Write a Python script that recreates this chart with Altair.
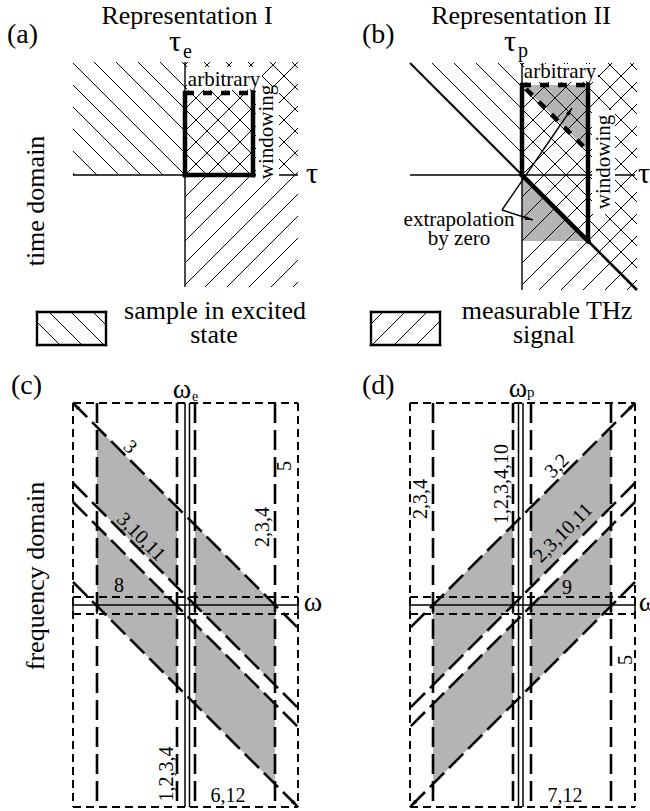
import math
import altair as alt
import pandas as pd

W, H = 650, 811
SERIF = "Liberation Serif"
GRAY = "#b4b4b4"
STEP = 22  # hatch spacing measured along x

# ---------- time domain: panel (a), representation I ----------
A_UPPER = [73, 298, 62, 175]      # x0, x1, y0, y1 of the "sample excited" half
A_RIGHT = [185, 298, 62, 287]     # measurable-signal half
A_ORIGIN = [185, 175]
A_WINDOW = [185, 253, 93, 175]    # x0, x1, top, bottom

# ---------- time domain: panel (b), representation II ----------
B_FRAME = [410, 637, 63, 290]
B_RIGHT = [522, 637, 63, 290]
B_ORIGIN = [522, 175]
B_WINDOW = [522, 588, 85, 241]

# ---------- legend ----------
LEG_BOXES = [[37, 106, 312, 345], [371, 440, 312, 345]]
LEG_SLOPES = [1, -1]

# ---------- frequency domain: panels (c) and (d) ----------
F_LEFT = [73, 410]
F_WIDTH = 225
F_TOP, F_BOTTOM = 403, 807
F_LONG_X = [24, 104, 122, 202]          # long-dashed verticals (panel-local x)
F_SOLID_X = [112, 116.5]                # solid double line on the omega_e / omega_p axis
F_STUB_X = [0, 24, 104, 122, 202, 225]
F_BAND_DASH_Y = [597, 614]
F_BAND_SOLID_Y = 605
F_DIAG_Y0 = [403, 483, 502, 582]        # diagonals, y at the starting edge
F_GRAY_X = [[24, 104], [122, 202]]
F_GRAY_BANDS = [[0, 1], [2, 3]]

segs = []


def seg(x1, y1, x2, y2, style):
    segs.append(dict(x=x1, y=y1, x2=x2, y2=y2, style=style))


def hatch(rect, slope, through, style="hatch", keep=None):
    x0, x1, y0, y1 = rect
    c_ref = through[1] - slope * through[0]
    cs = [y - slope * x for x in (x0, x1) for y in (y0, y1)]
    k0 = math.ceil((min(cs) - c_ref) / STEP)
    k1 = math.floor((max(cs) - c_ref) / STEP)
    for k in range(k0, k1 + 1):
        if keep is not None and not keep(k):
            continue
        c = c_ref + k * STEP
        if slope > 0:
            lo, hi = y0 - c, y1 - c
        else:
            lo, hi = c - y1, c - y0
        lo, hi = max(lo, x0), min(hi, x1)
        if hi - lo > 0.5:
            seg(lo, slope * lo + c, hi, slope * hi + c, style)


# panel (a)
hatch(A_UPPER, 1, A_ORIGIN)
hatch(A_RIGHT, -1, A_ORIGIN)
seg(A_UPPER[0], A_ORIGIN[1], A_UPPER[1], A_ORIGIN[1], "axis")
seg(A_ORIGIN[0], A_RIGHT[2], A_ORIGIN[0], A_RIGHT[3], "axis")
ax0, ax1, at, ab = A_WINDOW
seg(ax0, at, ax0, ab, "thick")
seg(ax0, ab, ax1, ab, "thick")
seg(ax1, at, ax1, ab, "thick")
seg(ax0, at, ax1, at, "thickdash")

# panel (b)
hatch(B_FRAME, 1, B_ORIGIN, keep=lambda k: k < 0)
hatch(B_RIGHT, -1, B_ORIGIN)
ox, oy = B_ORIGIN
seg(B_FRAME[0], oy, 635, oy, "axis")
seg(ox, B_FRAME[2], ox, B_FRAME[3], "axis")
bx0, bx1, bt, bb = B_WINDOW
seg(B_FRAME[0], oy - (ox - B_FRAME[0]), ox, oy, "diag")
seg(ox, oy, bx1, bb, "thick")
seg(bx1, bb, B_FRAME[1], bb + (B_FRAME[1] - bx1), "diag2")
seg(bx0, bt, bx0, oy, "thick")
seg(bx1, bt, bx1, bb, "thick")
seg(bx0, bt, bx1, bt, "thickdash")
seg(bx0 + 4, bt + 4, bx1, bt + (bx1 - bx0), "thickdash")
seg(502, 210, 572, 108, "pointer")
seg(502, 210, 533, 220, "pointer")

# legend boxes
for (lx0, lx1, ly0, ly1), s in zip(LEG_BOXES, LEG_SLOPES):
    hatch([lx0, lx1, ly0, ly1], s, [lx0 + 12, ly0])
    seg(lx0, ly0, lx1, ly0, "box")
    seg(lx0, ly1, lx1, ly1, "box")
    seg(lx0, ly0, lx0, ly1, "box")
    seg(lx1, ly0, lx1, ly1, "box")

# panels (c) and (d): (d) is the mirror image of (c)
gray_rows = []
arrow_rows = []
for panel, left in enumerate(F_LEFT):
    mirror = panel == 1

    def px(xl):
        return left + (F_WIDTH - xl if mirror else xl)

    right = left + F_WIDTH
    for xl in F_LONG_X:
        seg(px(xl), F_TOP, px(xl), F_BOTTOM, "long")
    for xl in F_SOLID_X:
        seg(px(xl), F_TOP, px(xl), F_BOTTOM, "omega")
    for yb in F_BAND_DASH_Y:
        seg(left, yb, right, yb, "frame")
    seg(left, F_BAND_SOLID_Y, right, F_BAND_SOLID_Y, "omega")
    for xl in F_STUB_X:
        seg(px(xl), F_BAND_DASH_Y[0], px(xl), F_BAND_DASH_Y[1], "omega")
    for y0 in F_DIAG_Y0:
        seg(px(0), y0, px(F_WIDTH), y0 + F_WIDTH, "long")
    seg(left, F_TOP, right, F_TOP, "frame")
    seg(left, F_BOTTOM, right, F_BOTTOM, "frame")
    seg(left, F_TOP, left, F_BOTTOM, "frame")
    seg(right, F_TOP, right, F_BOTTOM, "frame")
    for gx in F_GRAY_X:
        for ia, ib in F_GRAY_BANDS:
            name = f"p{panel}_{gx[0]}_{ia}"
            for xl in gx:
                gray_rows.append(dict(poly=name, x=px(xl),
                                      y=F_DIAG_Y0[ia] + xl, y2=F_DIAG_Y0[ib] + xl))
    a_start = 45 if mirror else 315
    arrow_rows.append(dict(x=px(0), y=F_DIAG_Y0[0], angle=a_start))
    arrow_rows.append(dict(x=px(F_WIDTH), y=F_DIAG_Y0[-1] + F_WIDTH,
                           angle=(a_start + 180) % 360))

# gray triangles of panel (b)
gray_rows += [
    dict(poly="b_up", x=bx0, y=bt, y2=bt),
    dict(poly="b_up", x=bx1, y=bt, y2=bt + (bx1 - bx0)),
    dict(poly="b_lo", x=bx0, y=oy, y2=bb),
    dict(poly="b_lo", x=bx1, y=bb, y2=bb),
]
arrow_rows += [dict(x=572, y=108, angle=34), dict(x=533, y=220, angle=104)]

# white backing behind the annotations that sit on the hatching
white_rows = [
    dict(x=187, x2=262, y=67, y2=90),
    dict(x=256, x2=279, y=86, y2=178),
    dict(x=524, x2=598, y=64, y2=82),
    dict(x=592, x2=615, y=110, y2=214),
]

# text: label, x, y, size, angle, align, baseline
T = [
    ("Representation I", 187, 24, 26, 0, "center", "alphabetic"),
    ("Representation II", 521, 24, 26, 0, "center", "alphabetic"),
    ("(a)", 7, 43, 28, 0, "left", "alphabetic"),
    ("(b)", 362, 43, 28, 0, "left", "alphabetic"),
    ("(c)", 11, 394, 28, 0, "left", "alphabetic"),
    ("(d)", 362, 394, 28, 0, "left", "alphabetic"),
    ("τ", 175, 51, 30, 0, "center", "alphabetic"),
    ("e", 183, 58, 20, 0, "left", "alphabetic"),
    ("τ", 510, 51, 30, 0, "center", "alphabetic"),
    ("p", 518, 57, 20, 0, "left", "alphabetic"),
    ("τ", 312, 183, 30, 0, "center", "alphabetic"),
    ("τ", 644, 183, 30, 0, "center", "alphabetic"),
    ("ω", 182, 398, 28, 0, "center", "alphabetic"),
    ("e", 192, 401, 14, 0, "left", "alphabetic"),
    ("ω", 518, 397, 28, 0, "center", "alphabetic"),
    ("p", 527, 397, 15, 0, "left", "alphabetic"),
    ("ω", 313, 611, 28, 0, "center", "alphabetic"),
    ("ω", 648, 611, 28, 0, "center", "alphabetic"),
    ("arbitrary", 224, 86, 21, 0, "center", "alphabetic"),
    ("arbitrary", 560, 78, 21, 0, "center", "alphabetic"),
    ("windowing", 273, 132, 21, 270, "center", "alphabetic"),
    ("windowing", 610, 162, 21, 270, "center", "alphabetic"),
    ("extrapolation", 459, 226, 21, 0, "center", "alphabetic"),
    ("by zero", 459, 245, 21, 0, "center", "alphabetic"),
    ("sample in excited", 215, 319, 26, 0, "center", "alphabetic"),
    ("state", 214, 343, 26, 0, "center", "alphabetic"),
    ("measurable THz", 547, 319, 26, 0, "center", "alphabetic"),
    ("signal", 544, 343, 26, 0, "center", "alphabetic"),
    ("time domain", 44, 201, 26, 270, "center", "alphabetic"),
    ("frequency domain", 44, 576, 26, 270, "center", "alphabetic"),
    ("3", 130, 447, 20, 45, "center", "middle"),
    ("3,10,11", 141, 537, 20, 45, "center", "middle"),
    ("8", 119, 586, 20, 0, "center", "middle"),
    ("5", 285, 466, 20, 270, "center", "middle"),
    ("2,3,4", 263, 527, 20, 270, "center", "middle"),
    ("1,2,3,4", 167, 774, 20, 270, "center", "middle"),
    ("6,12", 228, 796, 20, 0, "center", "middle"),
    ("2,3,4", 421, 499, 20, 270, "center", "middle"),
    ("1,2,3,4,10", 502, 484, 20, 270, "center", "middle"),
    ("3,2", 557, 466, 20, 315, "center", "middle"),
    ("2,3,10,11", 563, 533, 20, 315, "center", "middle"),
    ("9", 567, 588, 20, 0, "center", "middle"),
    ("5", 626, 660, 20, 270, "center", "middle"),
    ("7,12", 565, 796, 20, 0, "center", "middle"),
]
text_df = pd.DataFrame(T, columns=["label", "x", "y", "size", "angle", "align", "baseline"])

XS = alt.Scale(domain=[0, W], nice=False, zero=False)
YS = alt.Scale(domain=[0, H], nice=False, zero=False, reverse=True)


def xy(xf="x:Q", yf="y:Q"):
    return dict(x=alt.X(xf, scale=XS, axis=None), y=alt.Y(yf, scale=YS, axis=None))


seg_df = pd.DataFrame(segs)
STYLES = {
    "hatch": dict(strokeWidth=1),
    "axis": dict(strokeWidth=1.4),
    "diag": dict(strokeWidth=2),
    "diag2": dict(strokeWidth=2.6),
    "pointer": dict(strokeWidth=1.4),
    "box": dict(strokeWidth=2.4, strokeCap="square"),
    "thick": dict(strokeWidth=4.5, strokeCap="square"),
    "thickdash": dict(strokeWidth=4.5, strokeDash=[9, 9]),
    "frame": dict(strokeWidth=2, strokeDash=[8, 5]),
    "long": dict(strokeWidth=2.6, strokeDash=[20, 7]),
    "omega": dict(strokeWidth=1.5),
}

layers = [
    alt.Chart(pd.DataFrame(gray_rows)).mark_area(
        color=GRAY, opacity=1, orient="vertical", interpolate="linear"
    ).encode(**xy(), y2="y2:Q", detail="poly:N"),
]
for name, st in STYLES.items():
    sub = seg_df[seg_df["style"] == name]
    if len(sub) == 0:
        continue
    kw = dict(color="black", strokeCap="butt")
    kw.update(st)
    layers.append(alt.Chart(sub).mark_rule(**kw).encode(**xy(), x2="x2:Q", y2="y2:Q"))

layers.append(
    alt.Chart(pd.DataFrame(white_rows)).mark_rect(color="white").encode(**xy(), x2="x2:Q", y2="y2:Q")
)
layers.append(
    alt.Chart(pd.DataFrame(arrow_rows)).mark_point(
        shape="M0,0L0.5,1.9L-0.5,1.9Z", filled=True, color="black", opacity=1, size=70, strokeWidth=0
    ).encode(**xy(), angle=alt.Angle("angle:Q", scale=None))
)
for (al, bl), sub in text_df.groupby(["align", "baseline"]):
    layers.append(
        alt.Chart(sub).mark_text(font=SERIF, align=al, baseline=bl, color="black").encode(
            **xy(),
            text="label:N",
            size=alt.Size("size:Q", scale=None),
            angle=alt.Angle("angle:Q", scale=None),
        )
    )

chart = (
    alt.layer(*layers)
    .properties(width=W, height=H, autosize=alt.AutoSizeParams(type="none"), padding=0,
                background="white")
    .configure_view(stroke=None)
)

chart.save("out.html", embed_options={"renderer": "svg", "actions": False})
